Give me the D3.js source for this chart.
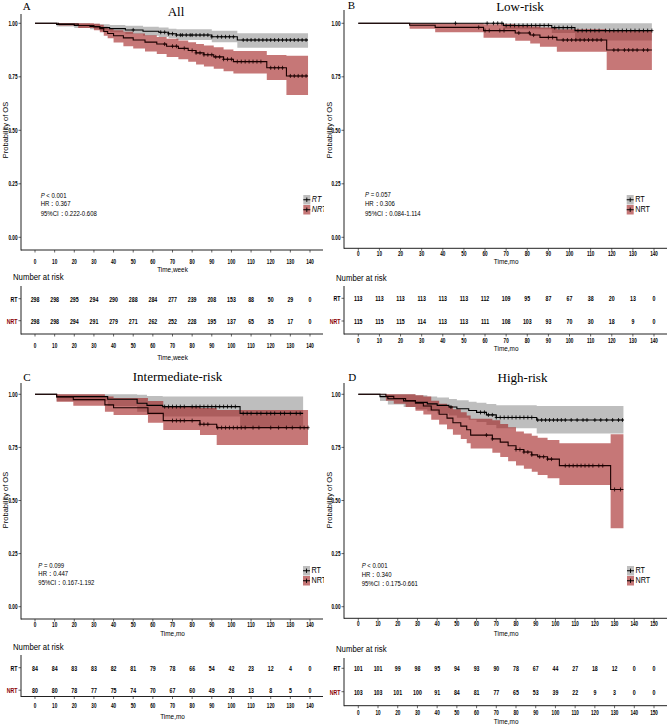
<!DOCTYPE html>
<html><head><meta charset="utf-8">
<script src="https://cdn.jsdelivr.net/npm/d3@7"></script>
<style>body{margin:0;background:#fff}svg{display:block}</style>
</head><body>
<svg id="chart" width="669" height="725"></svg>
<script>
// ---------------- DATA ----------------
const ticks140 = [0,10,20,30,40,50,60,70,80,90,100,110,120,130,140];
const ticks150 = [0,10,20,30,40,50,60,70,80,90,100,110,120,130,140,150];
const survTicks = [0,0.25,0.5,0.75,1];
const survTickLabels = ["0.00","0.25","0.50","0.75","1.00"];
const groupNames = ["RT","NRT"];
const panelLetters = ["A","B","C","D"];
const panelTitles = ["All","Low-risk","Intermediate-risk","High-risk"];
const xTitles = ["Time,week","Time,mo","Time,mo","Time,mo"];
const pTexts = ["< 0.001","= 0.057","= 0.099","< 0.001"];
const hrTexts = ["0.367","0.306","0.447","0.340"];
const ciTexts = ["0.222-0.608","0.084-1.114","0.167-1.192","0.175-0.661"];

// Panel A
const aRtTime  = [0,11,20,28,33,38,46,55,63,68,72,90,103];
const aRtSurv  = [1,0.995,0.99,0.985,0.98,0.975,0.969,0.963,0.958,0.951,0.945,0.937,0.922];
const aRtLower = [1,0.985,0.978,0.972,0.965,0.958,0.95,0.942,0.936,0.93,0.922,0.912,0.886];
const aRtUpper = [1,1,1,0.998,0.995,0.992,0.988,0.984,0.98,0.975,0.972,0.965,0.953];
const aRtEnd = 139;
const aRtCensor = [50,64,66,68,70,72,74,75,77,79,80,82,84,86,88,90,93,95,97,99,101,106,108,110,112,114,116,118,120,122,124,126,128,130,132,134,136,138];
const aNrtTime  = [0,12,22,30,33,35,37,40,45,50,56,62,67,73,78,82,86,91,96,101,118,128];
const aNrtSurv  = [1,0.997,0.99,0.983,0.975,0.962,0.952,0.942,0.932,0.922,0.912,0.903,0.893,0.883,0.873,0.862,0.853,0.843,0.832,0.821,0.792,0.754];
const aNrtLower = [1,0.99,0.978,0.968,0.958,0.942,0.93,0.91,0.893,0.882,0.868,0.856,0.843,0.832,0.82,0.808,0.798,0.788,0.776,0.765,0.735,0.665];
const aNrtUpper = [1,1,1,0.998,0.993,0.984,0.976,0.968,0.96,0.952,0.944,0.936,0.928,0.92,0.912,0.903,0.896,0.888,0.878,0.87,0.852,0.848];
const aNrtEnd = 139;
const aNrtCensor = [66,70,72,76,80,82,84,86,88,90,92,94,96,98,100,103,105,107,109,111,113,115,120,122,124,126,130,132,134,136,138];
const aRtRisk  = [298,298,295,294,290,288,284,277,239,208,153,88,50,29,0];
const aNrtRisk = [298,298,294,291,279,271,262,252,228,195,137,65,35,17,0];

// Panel B
const bRtTime  = [0,68.7,91.6,102.6];
const bRtSurv  = [1,0.99,0.98,0.966];
const bRtLower = [1,0.972,0.955,0.92];
const bRtUpper = [1,1,1,1];
const bRtEnd = 139;
const bRtCensor = [46,61,64,66,68,70,72,74,76,78,80,82,84,86,88,90,93,95,97,99,101,104,106,108,110,112,114,117,119,121,123,125,127,129,131,133,135,137,139];
const bNrtTime  = [0,24.3,36.4,59.3,74.3,81.4,86,94,117.6];
const bNrtSurv  = [1,0.991,0.981,0.966,0.955,0.945,0.934,0.922,0.875];
const bNrtLower = [1,0.975,0.958,0.933,0.919,0.906,0.891,0.867,0.782];
const bNrtUpper = [1,1,1,0.995,0.99,0.985,0.98,0.972,0.964];
const bNrtEnd = 139;
const bNrtCensor = [57,60,62,67,69,76,81,83,90,92,97,99,101,103,105,107,109,111,113,115,121,123,126,128,130,132,135,137];
const bRtRisk  = [113,113,113,113,113,113,112,109,95,87,67,38,20,13,0];
const bNrtRisk = [115,115,115,114,113,113,111,108,103,93,70,30,18,9,0];

// Panel C
const cRtTime  = [0,11,37,52,57,65,104.4];
const cRtSurv  = [1,0.989,0.977,0.958,0.948,0.942,0.91];
const cRtLower = [1,0.967,0.945,0.918,0.905,0.895,0.84];
const cRtUpper = [1,1,1,0.998,0.992,0.99,0.99];
const cRtEnd = 136.5;
const cRtCensor = [66,68,70,72,74,76,80,82,84,86,88,90,92,94,96,98,100,102,106,108,110,113,115,118,120,122,125,127,130,133,135];
const cNrtTime  = [0,11,19.5,35.6,40,57.5,65.3,84,92.5];
const cNrtSurv  = [1,0.988,0.975,0.95,0.937,0.91,0.876,0.859,0.843];
const cNrtLower = [1,0.965,0.946,0.918,0.902,0.866,0.832,0.808,0.761];
const cNrtUpper = [1,1,1,0.99,0.982,0.968,0.945,0.935,0.926];
const cNrtEnd = 139;
const cNrtCensor = [70,72,74,76,80,84,86,88,93,95,97,99,101,103,105,107,111,114,120,124,128,131,135,137,139];
const cRtRisk  = [84,84,83,83,82,81,79,78,66,54,42,23,12,4,0];
const cNrtRisk = [80,80,78,77,75,74,70,67,60,49,28,13,8,5,0];

// Panel D
const dRtTime  = [0,11,15,23,29,35,40,46,50,56,60,65,70,90.5];
const dRtSurv  = [1,0.989,0.979,0.969,0.962,0.955,0.948,0.94,0.932,0.924,0.915,0.903,0.891,0.879];
const dRtLower = [1,0.968,0.952,0.94,0.93,0.92,0.91,0.9,0.89,0.88,0.87,0.855,0.84,0.816];
const dRtUpper = [1,1,1,1,0.995,0.99,0.985,0.978,0.972,0.965,0.96,0.954,0.948,0.945];
const dRtEnd = 134.5;
const dRtCensor = [47,62,64,66,68,70,72,74,76,78,80,82,84,86,88,91,93,95,97,99,101,103,105,108,111,114,116,120,123,126,129,132,134];
const dNrtTime  = [0,14,18,24,29,33,37,41,45,48,52,55,57,68,72,76,80,84,88,91,96,102,128];
const dNrtSurv  = [1,0.99,0.98,0.97,0.958,0.945,0.926,0.906,0.888,0.866,0.85,0.833,0.808,0.79,0.775,0.758,0.74,0.728,0.715,0.706,0.695,0.664,0.552];
const dNrtLower = [1,0.97,0.955,0.94,0.922,0.905,0.88,0.858,0.835,0.81,0.79,0.77,0.745,0.725,0.705,0.685,0.665,0.65,0.635,0.62,0.605,0.573,0.369];
const dNrtUpper = [1,1,1,1,0.995,0.99,0.97,0.955,0.945,0.93,0.915,0.9,0.885,0.878,0.86,0.845,0.825,0.815,0.805,0.795,0.785,0.769,0.812];
const dNrtEnd = 134.5;
const dNrtCensor = [65,68,80,82,84,86,88,92,94,96,98,105,107,109,111,113,115,117,119,122,124,130,133];
const dRtRisk  = [101,101,99,98,95,94,93,90,78,67,44,27,18,12,0,0];
const dNrtRisk = [103,103,101,100,91,84,81,77,65,53,39,22,9,3,0,0];

// ---------------- LAYOUT ----------------
const panels = [
  {idx:0, ticks:ticks140, x0:35, x1:310, yTop:23.3, yBot:237.3, axisX:21, axisR:323, axisY:250, axisTop:14,
   tickCY:261.5, xTitleCY:269.5, narCY:277, tTop:286, rtCY:298.7, nrtCY:320.7, tAxisY:334, tTickCY:346, tTitleCY:357.5,
   statsX:40.7, pCY:195, hrCY:203.3, ciCY:213.3, legX:303.3, legTop:195, legItalic:true,
   letterX:22.7, letterY:10, titleCX:176, titleY:16, ylabX:5, ylabCY:130, bgX:0,
   rt:{time:aRtTime,surv:aRtSurv,lo:aRtLower,hi:aRtUpper,end:aRtEnd,cens:aRtCensor,risk:aRtRisk},
   nrt:{time:aNrtTime,surv:aNrtSurv,lo:aNrtLower,hi:aNrtUpper,end:aNrtEnd,cens:aNrtCensor,risk:aNrtRisk}},
  {idx:1, ticks:ticks140, x0:358.3, x1:654, yTop:23.3, yBot:237.3, axisX:344, axisR:667, axisY:248.3, axisTop:10,
   tickCY:253.8, xTitleCY:261.7, narCY:277.3, tTop:286, rtCY:298.3, nrtCY:321, tAxisY:334, tTickCY:340.7, tTitleCY:348.3,
   statsX:365, pCY:194, hrCY:203.3, ciCY:213.3, legX:626.7, legTop:195, legItalic:false,
   letterX:347.7, letterY:9, titleCX:520, titleY:10.5, ylabX:329, ylabCY:130, bgX:324,
   rt:{time:bRtTime,surv:bRtSurv,lo:bRtLower,hi:bRtUpper,end:bRtEnd,cens:bRtCensor,risk:bRtRisk},
   nrt:{time:bNrtTime,surv:bNrtSurv,lo:bNrtLower,hi:bNrtUpper,end:bNrtEnd,cens:bNrtCensor,risk:bNrtRisk}},
  {idx:2, ticks:ticks140, x0:35, x1:310, yTop:394.3, yBot:606.7, axisX:21, axisR:323, axisY:619, axisTop:383,
   tickCY:624.5, xTitleCY:632.8, narCY:646.7, tTop:655, rtCY:667.7, nrtCY:690.2, tAxisY:696.5, tTickCY:705.7, tTitleCY:716.7,
   statsX:38.3, pCY:565, hrCY:573.3, ciCY:582.7, legX:303, legTop:566, legItalic:false,
   letterX:23.3, letterY:381, titleCX:177.5, titleY:381, ylabX:5, ylabCY:500, bgX:0,
   rt:{time:cRtTime,surv:cRtSurv,lo:cRtLower,hi:cRtUpper,end:cRtEnd,cens:cRtCensor,risk:cRtRisk},
   nrt:{time:cNrtTime,surv:cNrtSurv,lo:cNrtLower,hi:cNrtUpper,end:cNrtEnd,cens:cNrtCensor,risk:cNrtRisk}},
  {idx:3, ticks:ticks150, x0:358.3, x1:654, yTop:394.3, yBot:606.7, axisX:344, axisR:667, axisY:618.3, axisTop:383,
   tickCY:624, xTitleCY:633.3, narCY:648.3, tTop:658, rtCY:668.3, nrtCY:691.7, tAxisY:705.7, tTickCY:713, tTitleCY:721,
   statsX:361.7, pCY:565, hrCY:574, ciCY:583.3, legX:627, legTop:566, legItalic:false,
   letterX:348.3, letterY:381, titleCX:522.5, titleY:382, ylabX:329, ylabCY:500, bgX:324,
   rt:{time:dRtTime,surv:dRtSurv,lo:dRtLower,hi:dRtUpper,end:dRtEnd,cens:dRtCensor,risk:dRtRisk},
   nrt:{time:dNrtTime,surv:dNrtSurv,lo:dNrtLower,hi:dNrtUpper,end:dNrtEnd,cens:dNrtCensor,risk:dNrtRisk}}
];

const SANS = "'Liberation Sans', Arial, sans-serif";
const SERIF = "'Liberation Serif', 'DejaVu Serif', serif";
const GRAY = "#bebebe";
const RED = "#a01c1c";
const svg = d3.select("#chart");

function ntext(g, x, y, str, size, anchor, opts) {
  opts = opts || {};
  const sx = opts.sx || 0.8;
  const t = g.append("text")
    .attr("transform", `translate(${x},${y}) scale(${sx},1)`)
    .attr("x", 0).attr("y", 0)
    .attr("font-family", opts.family || SANS)
    .attr("font-size", size)
    .attr("text-anchor", anchor || "start")
    .attr("dominant-baseline", "central")
    .attr("fill", opts.fill || "#000");
  if (opts.weight) t.attr("font-weight", opts.weight);
  if (opts.italic) t.attr("font-style", "italic");
  t.text(str);
  return t;
}

function stepAt(times, vals, t) {
  const i = d3.bisectRight(times, t) - 1;
  return vals[Math.max(0, i)];
}

panels.forEach(p => {
  const g = svg.append("g");
  const top = p.idx < 2 ? 0 : 362;
  g.append("rect").attr("x", p.bgX).attr("y", top).attr("width", 669 - p.bgX).attr("height", 363).attr("fill", "#fff");
  const xmax = p.ticks[p.ticks.length - 1];
  const x = d3.scaleLinear().domain([0, xmax]).range([p.x0, p.x1]);
  const y = d3.scaleLinear().domain([0, 1]).range([p.yBot, p.yTop]);

  // bands
  const groups = [{d:p.rt, fill:GRAY, op:1}, {d:p.nrt, fill:RED, op:0.6}];
  groups.forEach(gr => {
    const pts = gr.d.time.map((t, i) => ({t, lo: gr.d.lo[i], hi: gr.d.hi[i], s: gr.d.surv[i]}));
    const last = pts[pts.length - 1];
    pts.push({t: gr.d.end, lo: last.lo, hi: last.hi, s: last.s});
    gr.pts = pts;
    const area = d3.area().curve(d3.curveStepAfter)
      .x(d => x(d.t)).y0(d => y(d.lo)).y1(d => y(d.hi));
    g.append("path").datum(pts).attr("d", area).attr("fill", gr.fill).attr("fill-opacity", gr.op);
  });
  // lines + censor
  groups.forEach((gr, k) => {
    const line = d3.line().curve(d3.curveStepAfter).x(d => x(d.t)).y(d => y(d.s));
    const col = k === 0 ? "#000" : "#1a0000";
    g.append("path").datum(gr.pts).attr("d", line).attr("fill", "none").attr("stroke", col).attr("stroke-width", 1.1);
    const cg = g.append("g").attr("stroke", col).attr("stroke-width", 0.8);
    gr.d.cens.forEach(t => {
      const cx = x(t), cy = y(stepAt(gr.d.time, gr.d.surv, t));
      cg.append("line").attr("x1", cx - 1.6).attr("x2", cx + 1.6).attr("y1", cy).attr("y2", cy);
      cg.append("line").attr("x1", cx).attr("x2", cx).attr("y1", cy - 2).attr("y2", cy + 2);
    });
  });

  // axes (main)
  const ax = g.append("g").attr("stroke", "#222").attr("stroke-width", 1);
  ax.append("line").attr("x1", p.axisX).attr("x2", p.axisX).attr("y1", p.axisTop).attr("y2", p.axisY + 0.5);
  ax.append("line").attr("x1", p.axisX).attr("x2", p.axisR).attr("y1", p.axisY).attr("y2", p.axisY);
  survTicks.forEach((v, i) => {
    ax.append("line").attr("x1", p.axisX - 2.5).attr("x2", p.axisX).attr("y1", y(v)).attr("y2", y(v)).attr("stroke-width", 0.7);
    ntext(g, p.axisX - 3.5, y(v), survTickLabels[i], 6.5, "end", {sx: 0.72, weight: "bold"});
  });
  p.ticks.forEach(t => {
    ax.append("line").attr("x1", x(t)).attr("x2", x(t)).attr("y1", p.axisY).attr("y2", p.axisY + 2.5).attr("stroke-width", 0.7);
    ntext(g, x(t), p.tickCY, String(t), 6.8, "middle", {sx: 0.68, weight: "bold"});
  });
  ntext(g, (p.x0 + p.x1) / 2, p.xTitleCY, xTitles[p.idx], 8, "middle", {sx: 0.8});
  g.append("text")
    .attr("transform", `translate(${p.ylabX},${p.ylabCY}) rotate(-90)`)
    .attr("text-anchor", "middle").attr("dominant-baseline", "central")
    .attr("font-family", SANS).attr("font-size", 7.5).text("Probability of OS");

  // titles
  g.append("text").attr("x", p.letterX).attr("y", p.letterY).attr("font-family", SERIF).attr("font-size", 11).text(panelLetters[p.idx]);
  g.append("text").attr("x", p.titleCX).attr("y", p.titleY).attr("text-anchor", "middle").attr("font-family", SERIF).attr("font-size", 13).text(panelTitles[p.idx]);

  // stats
  const pt = ntext(g, p.statsX, p.pCY, "", 7.5, "start", {sx: 0.8});
  pt.append("tspan").attr("font-style", "italic").text("P");
  pt.append("tspan").text(" " + pTexts[p.idx]);
  ntext(g, p.statsX, p.hrCY, "HR：" + hrTexts[p.idx], 7.5, "start", {sx: 0.8});
  ntext(g, p.statsX, p.ciCY, "95%CI：" + ciTexts[p.idx], 7.5, "start", {sx: 0.8});

  // legend
  [GRAY, RED].forEach((c, k) => {
    const ly = p.legTop + k * 10;
    g.append("rect").attr("x", p.legX).attr("y", ly).attr("width", 7).attr("height", 9.5)
      .attr("fill", c).attr("fill-opacity", k === 0 ? 1 : 0.6);
    const cx = p.legX + 3.5, cy = ly + 4.75;
    g.append("line").attr("x1", p.legX).attr("x2", p.legX + 7).attr("y1", cy).attr("y2", cy).attr("stroke", "#000").attr("stroke-width", 1);
    g.append("line").attr("x1", cx).attr("x2", cx).attr("y1", cy - 2.2).attr("y2", cy + 2.2).attr("stroke", "#000").attr("stroke-width", 0.9);
    ntext(g, p.legX + 8.5, cy, groupNames[k], 8.5, "start", {sx: 0.85, italic: p.legItalic});
  });

  // risk table
  ntext(g, p.axisX - 8, p.narCY, "Number at risk", 9.5, "start", {sx: 0.82});
  const tg = g.append("g").attr("stroke", "#222");
  tg.append("line").attr("x1", p.axisX).attr("x2", p.axisX).attr("y1", p.tTop).attr("y2", p.tAxisY + 0.5);
  tg.append("line").attr("x1", p.axisX).attr("x2", p.axisR).attr("y1", p.tAxisY).attr("y2", p.tAxisY);
  [[p.rtCY, p.rt.risk, "RT", "#000"], [p.nrtCY, p.nrt.risk, "NRT", "#8b0000"]].forEach(([cy, risk, lab, col]) => {
    tg.append("line").attr("x1", p.axisX - 2.5).attr("x2", p.axisX).attr("y1", cy).attr("y2", cy).attr("stroke-width", 0.7);
    ntext(g, p.axisX - 3.5, cy, lab, 7, "end", {sx: 0.75, fill: col, weight: "bold"});
    risk.forEach((v, i) => ntext(g, x(p.ticks[i]), cy, String(v), 7.5, "middle", {sx: 0.7, weight: "bold"}));
  });
  p.ticks.forEach(t => {
    tg.append("line").attr("x1", x(t)).attr("x2", x(t)).attr("y1", p.tAxisY).attr("y2", p.tAxisY + 2.5).attr("stroke-width", 0.7);
    ntext(g, x(t), p.tTickCY, String(t), 6.8, "middle", {sx: 0.68, weight: "bold"});
  });
  ntext(g, (p.x0 + p.x1) / 2, p.tTitleCY, xTitles[p.idx], 8, "middle", {sx: 0.8});
});
</script>
</body></html>
